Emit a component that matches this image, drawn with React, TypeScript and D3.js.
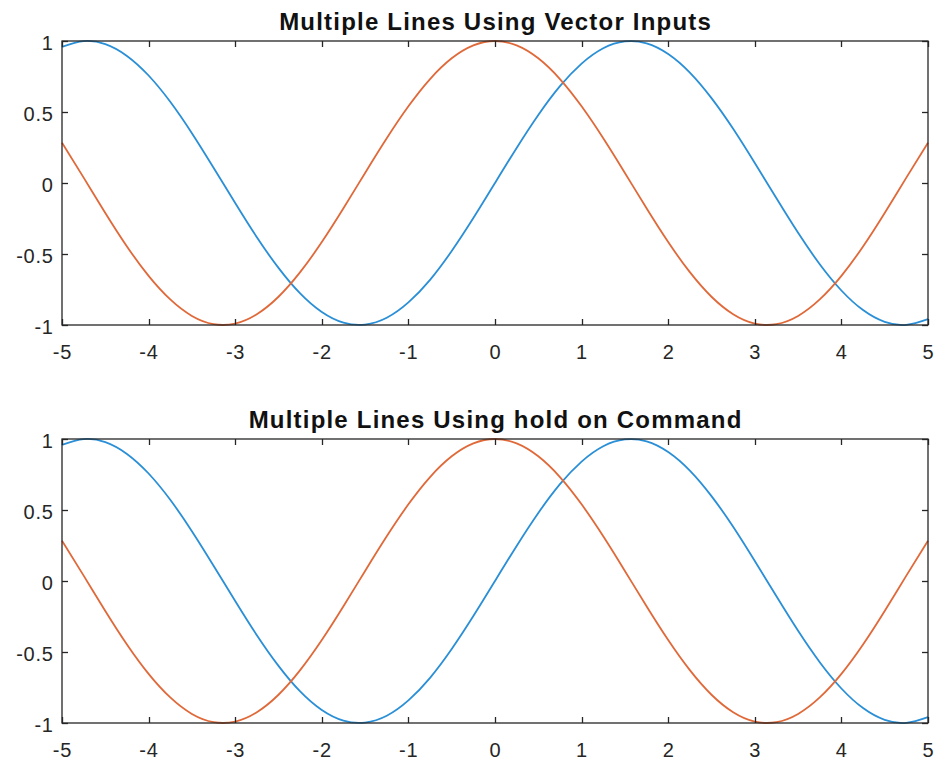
import React, { useEffect, useRef } from "react";
import * as d3 from "d3";

const xValues = [
  -5, -4.75, -4.5, -4.25, -4, -3.75, -3.5, -3.25, -3, -2.75, -2.5, -2.25, -2, -1.75, -1.5, -1.25,
  -1, -0.75, -0.5, -0.25, 0, 0.25, 0.5, 0.75, 1, 1.25, 1.5, 1.75, 2, 2.25, 2.5, 2.75, 3, 3.25,
  3.5, 3.75, 4, 4.25, 4.5, 4.75, 5,
];
const sinValues = [
  0.959, 0.999, 0.978, 0.895, 0.757, 0.572, 0.351, 0.108, -0.141, -0.382, -0.598, -0.778, -0.909,
  -0.984, -0.997, -0.949, -0.841, -0.682, -0.479, -0.247, 0, 0.247, 0.479, 0.682, 0.841, 0.949,
  0.997, 0.984, 0.909, 0.778, 0.598, 0.382, 0.141, -0.108, -0.351, -0.572, -0.757, -0.895, -0.978,
  -0.999, -0.959,
];
const cosValues = [
  0.284, 0.038, -0.211, -0.447, -0.654, -0.82, -0.936, -0.994, -0.99, -0.924, -0.801, -0.628,
  -0.416, -0.178, 0.071, 0.315, 0.54, 0.732, 0.878, 0.969, 1, 0.969, 0.878, 0.732, 0.54, 0.315,
  0.071, -0.178, -0.416, -0.628, -0.801, -0.924, -0.99, -0.994, -0.936, -0.82, -0.654, -0.447,
  -0.211, 0.038, 0.284,
];
const xTicks = [-5, -4, -3, -2, -1, 0, 1, 2, 3, 4, 5];
const yTicks = [-1, -0.5, 0, 0.5, 1];
const titles = ["Multiple Lines Using Vector Inputs", "Multiple Lines Using hold on Command"];

const W = 937;
const H = 763;
const LEFT = 62;
const RIGHT = 928;
const PANELS = [
  { top: 41, bottom: 325 },
  { top: 439, bottom: 723 },
];
const AXIS_COLOR = "#262626";
const BLUE = "#2a8fd6";
const ORANGE = "#e0693a";
const FONT = "'Liberation Sans', Arial, Helvetica, sans-serif";
const TICK_FS = 20;
const TICK_LS = 0.8;
const TITLE_FS = 24;
const TITLE_LS = 1.2;

export default function App() {
  const ref = useRef<SVGSVGElement>(null);

  useEffect(() => {
    const svg = d3.select(ref.current);
    svg.selectAll("*").remove();
    svg.append("rect").attr("width", W).attr("height", H).attr("fill", "#fff");

    PANELS.forEach((p, i) => {
      const x = d3.scaleLinear().domain([-5, 5]).range([LEFT, RIGHT]);
      const y = d3.scaleLinear().domain([-1, 1]).range([p.bottom, p.top]);
      const g = svg.append("g");

      const clipId = `clip${i}`;
      g.append("clipPath")
        .attr("id", clipId)
        .append("rect")
        .attr("x", LEFT - 1)
        .attr("y", p.top - 2)
        .attr("width", RIGHT - LEFT + 2)
        .attr("height", p.bottom - p.top + 4);

      const line = (vals: number[]) =>
        d3
          .line<number>()
          .x((_, k) => x(xValues[k]))
          .y((v) => y(v))
          .curve(d3.curveNatural)(vals);

      const lines = g.append("g").attr("clip-path", `url(#${clipId})`);
      lines
        .append("path")
        .attr("d", line(sinValues) as string)
        .attr("fill", "none")
        .attr("stroke", BLUE)
        .attr("stroke-width", 1.8);
      lines
        .append("path")
        .attr("d", line(cosValues) as string)
        .attr("fill", "none")
        .attr("stroke", ORANGE)
        .attr("stroke-width", 1.8);

      // box
      g.append("rect")
        .attr("x", LEFT)
        .attr("y", p.top)
        .attr("width", RIGHT - LEFT)
        .attr("height", p.bottom - p.top)
        .attr("fill", "none")
        .attr("stroke", AXIS_COLOR)
        .attr("stroke-width", 1.3);

      const TL = 6;
      xTicks.forEach((t) => {
        const xx = Math.round(x(t)) + 0.5;
        g.append("line")
          .attr("x1", xx)
          .attr("x2", xx)
          .attr("y1", p.bottom)
          .attr("y2", p.bottom - TL)
          .attr("stroke", AXIS_COLOR)
          .attr("stroke-width", 1.3);
        g.append("line")
          .attr("x1", xx)
          .attr("x2", xx)
          .attr("y1", p.top)
          .attr("y2", p.top + TL)
          .attr("stroke", AXIS_COLOR)
          .attr("stroke-width", 1.3);
        g.append("text")
          .attr("x", x(t) + TICK_LS / 2)
          .attr("y", p.bottom + 34)
          .attr("text-anchor", "middle")
          .attr("font-family", FONT)
          .attr("font-size", TICK_FS)
          .attr("letter-spacing", TICK_LS)
          .attr("fill", AXIS_COLOR)
          .text(String(t));
      });
      yTicks.forEach((t) => {
        const yy = Math.round(y(t)) + 0.5;
        g.append("line")
          .attr("x1", LEFT)
          .attr("x2", LEFT + TL)
          .attr("y1", yy)
          .attr("y2", yy)
          .attr("stroke", AXIS_COLOR)
          .attr("stroke-width", 1.3);
        g.append("line")
          .attr("x1", RIGHT)
          .attr("x2", RIGHT - TL)
          .attr("y1", yy)
          .attr("y2", yy)
          .attr("stroke", AXIS_COLOR)
          .attr("stroke-width", 1.3);
        g.append("text")
          .attr("x", LEFT - 9 + TICK_LS)
          .attr("y", y(t) + 8.5)
          .attr("text-anchor", "end")
          .attr("font-family", FONT)
          .attr("font-size", TICK_FS)
          .attr("letter-spacing", TICK_LS)
          .attr("fill", AXIS_COLOR)
          .text(String(t));
      });

      g.append("text")
        .attr("x", (LEFT + RIGHT) / 2 + TITLE_LS / 2)
        .attr("y", p.top - 11.5)
        .attr("text-anchor", "middle")
        .attr("font-family", FONT)
        .attr("font-weight", "bold")
        .attr("font-size", TITLE_FS)
        .attr("letter-spacing", TITLE_LS)
        .attr("fill", "#111")
        .text(titles[i]);
    });
  }, []);

  return (
    <svg
      ref={ref}
      width={W}
      height={H}
      style={{ position: "absolute", left: 0, top: 0, display: "block" }}
    />
  );
}
